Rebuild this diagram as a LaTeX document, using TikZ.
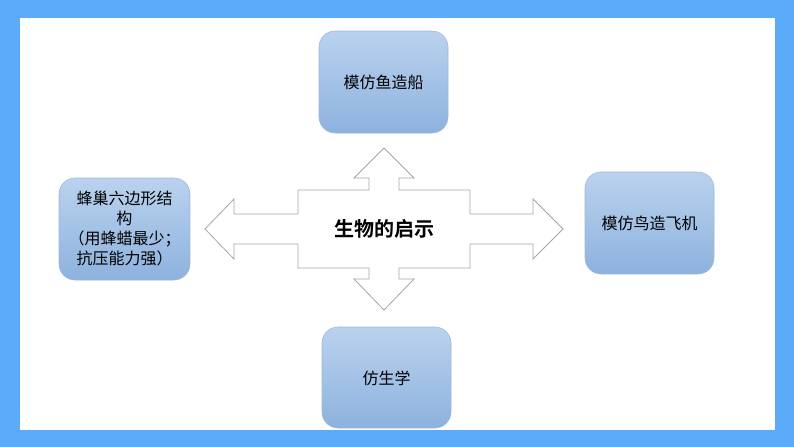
\documentclass[tikz,border=0pt]{standalone}
\usepackage{fontspec}
\setmainfont{Noto Sans CJK SC}
\newfontfamily\cjkb{Noto Sans CJK SC Bold}
\begin{document}
\begin{tikzpicture}[x=0.75pt,y=-0.75pt,
  bx/.style={draw=#1,rounded corners=12pt,top color=bTop,bottom color=bBot,draw=bEdge},
  lbl/.style={font=\fontsize{12}{15}\selectfont,align=center,text=black}]
\definecolor{frame}{HTML}{5BABF8}
\definecolor{bTop}{HTML}{BAD2EE}
\definecolor{bBot}{HTML}{8DB2DE}
\definecolor{bEdge}{HTML}{9DB8D6}
\fill[frame] (0,0) rectangle (794,447);
\fill[white] (20,18) rectangle (775,430);
\useasboundingbox (0,0) rectangle (794,447);
\draw[gray!70,line width=0.6pt] (298,190) -- (369,190) -- (369,178) -- (354,178) -- (384,148) -- (414,178) -- (399,178) -- (399,190) -- (470,190)
 -- (470,214) -- (533,214) -- (533,199) -- (563,229) -- (533,259) -- (533,244) -- (470,244) -- (470,268)
 -- (399,268) -- (399,279) -- (414,279) -- (384,310) -- (354,279) -- (369,279) -- (369,268) -- (298,268)
 -- (298,244) -- (234,244) -- (234,259) -- (205,229) -- (234,199) -- (234,214) -- (298,214) -- cycle;
\node[font=\cjkb\fontsize{15}{18}\selectfont] (c) at (384,229) {生物的启示};
\draw[bx] (319,31) rectangle (448,133);
\node[lbl] (t) at (383.5,82) {模仿鱼造船};
\draw[bx] (585,172) rectangle (714,274);
\node[lbl] (r) at (649.5,223) {模仿鸟造飞机};
\draw[bx] (322,327) rectangle (451,428);
\node[lbl] (b) at (386.5,378) {仿生学};
\draw[bx] (59,178) rectangle (190,280);
\node[lbl] (l) at (124.5,229) {蜂巢六边形结\\构\\（用蜂蜡最少；\\抗压能力强）};
\end{tikzpicture}
\end{document}
